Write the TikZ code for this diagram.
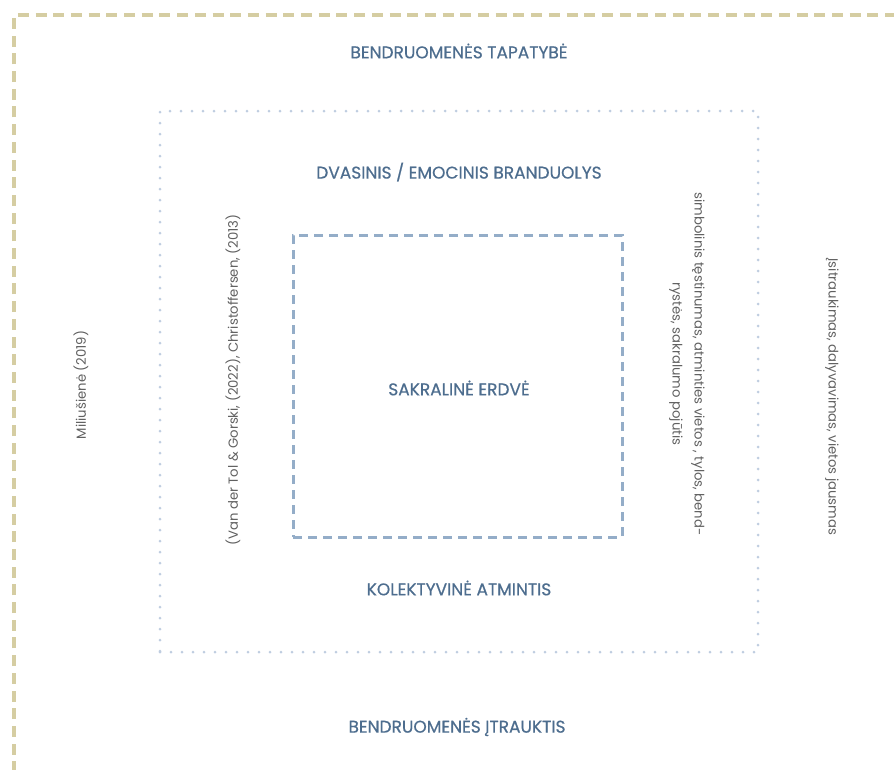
\documentclass[tikz,border=0pt]{standalone}
\usepackage{fontspec}
\setmainfont{Poppins}
\newfontfamily\titlefont{Poppins}[FakeBold=0.6]
\usepackage{tikz}
\definecolor{khaki}{HTML}{D5CDA2}
\definecolor{dotblue}{HTML}{BFCDE0}
\definecolor{dashblue}{HTML}{94ADC8}
\definecolor{titleblue}{HTML}{4D6D8E}
\definecolor{notegray}{HTML}{606060}

\begin{document}
\begin{tikzpicture}[x=1pt, y=-1pt,
    title/.style={text=titleblue, font=\titlefont\fontsize{17}{20}\selectfont},
    note/.style={text=notegray, font=\fontsize{13.2}{22}\selectfont, align=center}]
  \useasboundingbox (0,0) rectangle (894,769);
  \clip (0,0) rectangle (894,769);
  % outer frame, runs off the page
  \draw[khaki, line width=3.3pt, dash pattern=on 11pt off 6.7pt]
    (14,790) -- (14,15) -- (910,15);
  % middle frame
  \node[draw=dotblue, line width=3pt, line cap=round,
        dash pattern=on 0pt off 11pt, minimum width=598pt, minimum height=541pt]
    (core) at (459,381.5) {};
  % inner frame
  \node[draw=dashblue, line width=3pt, dash pattern=on 9pt off 6pt,
        minimum width=329pt, minimum height=302pt]
    (sacral) at (457.5,386) {};

  \node[title] (identity) at (459,51) {BENDRUOMENĖS TAPATYBĖ};
  \node[title] (spirit) at (459,172) {DVASINIS / EMOCINIS BRANDUOLYS};
  \node[title] (space) at (459,388) {SAKRALINĖ ERDVĖ};
  \node[title] (memory) at (459,588) {KOLEKTYVINĖ ATMINTIS};
  \node[title] (inclusion) at (457,727) {BENDRUOMENĖS ĮTRAUKTIS};

  \node[note, rotate=90] (milius) at (81,385) {Miliušienė (2019)};
  \node[note, rotate=90] (vandertol) at (233,380)
    {(Van der Tol \& Gorski, (2022), Christoffersen, (2013)};
  \node[note, rotate=-90] (symbolic) at (687,364)
    {simbolinis tęstinumas, atminties vietos , tylos, bend-\\rystės, sakralumo pojūtis};
  \node[note, rotate=-90] (engage) at (832,397)
    {Įsitraukimas, dalyvavimas, vietos jausmas};
\end{tikzpicture}
\end{document}
